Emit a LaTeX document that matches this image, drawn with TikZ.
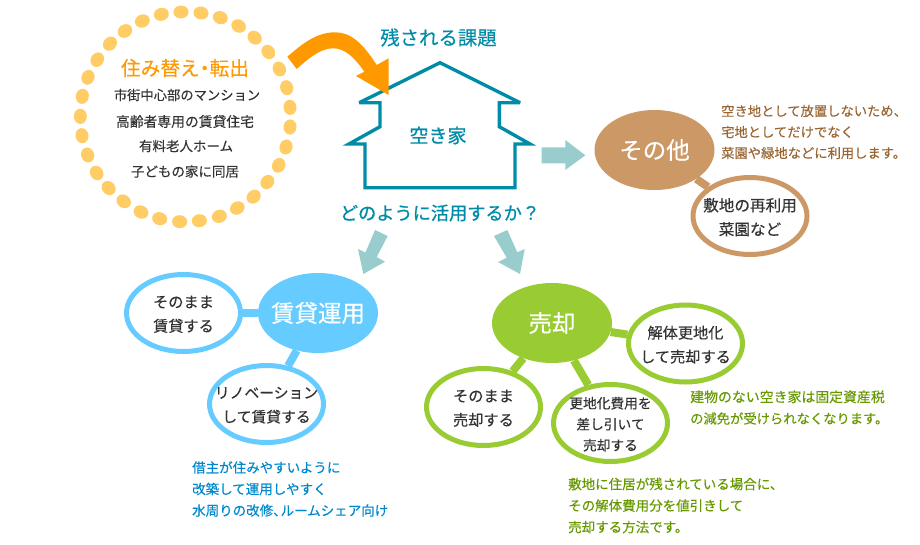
\documentclass[tikz,border=0pt]{standalone}
\usepackage{fontspec}
\setmainfont[FakeBold=0.25]{Noto Sans CJK JP}
\newfontfamily\headfont[FakeBold=0.9]{Noto Sans CJK JP}
\usetikzlibrary{shapes.geometric,backgrounds}
\definecolor{teal1}{HTML}{008CA8}
\definecolor{teal2}{HTML}{99CCCC}
\definecolor{orange1}{HTML}{FF9900}
\definecolor{dotc}{HTML}{FFCC66}
\definecolor{bluec}{HTML}{66CCFF}
\definecolor{greenc}{HTML}{99CC33}
\definecolor{brownc}{HTML}{CC9966}
\definecolor{darktxt}{HTML}{333333}
\definecolor{bluetxt}{HTML}{0088CC}
\definecolor{greentxt}{HTML}{669900}
\definecolor{browntxt}{HTML}{996633}
\newcommand{\narrowten}{\makebox[.55em][l]{、}}
\newcommand{\narrowdot}{\makebox[.5em][c]{\makebox[0pt][c]{・}}}
\tikzset{
  fs/.style n args={2}{font=\fontsize{#1}{#2}\selectfont},
  mainoval/.style={ellipse,fill=#1,draw=none,minimum width=120pt,minimum height=80pt,inner sep=0pt},
  suboval/.style={ellipse,fill=white,draw=#1,line width=5pt,minimum width=114pt,minimum height=77pt,inner sep=0pt},
  link/.style={line width=8pt,draw=#1},
  oval text/.style={align=center,text=darktxt,inner sep=0pt,yshift=-1.2pt},
  big text/.style={text=white,inner sep=0pt,fs={23.5}{28}},
  note/.style={align=left,anchor=west,inner sep=0pt,text=#1},
  teal arrow/.style={fill=teal2,draw=none},
}
\begin{document}
\begin{tikzpicture}[x=1pt,y=-1pt]
\useasboundingbox (0,0) rectangle (920,544);
% dotted ring
\foreach \px/\py in {363/36,423/39,481/53,536/78,584/113,625/156,658/207,680/263,690/322,690/381,678/441,656/496,622/546,581/590,532/624,478/649,418/662,359/665,299/656,243/636,191/604,146/564,110/519,83/465,66/407,61/349,67/289,84/232,112/179,150/131,195/93,247/63,304/43}{
  \pgfmathsetmacro\dx{60+\px/3}
  \pgfmathsetmacro\dy{\py/3}
  \pgfmathsetmacro\ang{-(atan2(\dy-117,\dx-185)+90)}
  \fill[dotc,rotate around={\ang:(\dx,\dy)}] (\dx,\dy) ellipse [x radius=7.6,y radius=6.5];
}
\node[text=orange1,fs={19.7}{23},inner sep=0pt] (t0) at (185,68) {住み替え\narrowdot 転出};
\node[text=darktxt,fs={13.3}{16},inner sep=0pt] (t1) at (187,95) {市街中心部のマンション};
\node[text=darktxt,fs={13.8}{16},inner sep=0pt] (t2) at (185,121.5) {高齢者専用の賃貸住宅};
\node[text=darktxt,fs={13.5}{16},inner sep=0pt] (t3) at (186,146) {有料老人ホーム};
\node[text=darktxt,fs={13.5}{16},inner sep=0pt] (t4) at (185,171.5) {子どもの家に同居};
% house
\draw[teal1,line width=3.4pt,line join=miter,miter limit=4]
  (440,62.7) -- (520,102.7) -- (499.3,102.7) -- (499.3,126.7) -- (530,144) -- (515,144) -- (515,187.7)
  -- (365,187.7) -- (365,144) -- (349,144) -- (380,126.7) -- (380,102.7) -- (359.3,102.7) -- cycle;
% curved orange arrow
\fill[orange1] (287.3,56.7) .. controls (300,46) and (315,32.3) .. (335,32.3)
  .. controls (350,32.3) and (362,42) .. (376.7,65) -- (388.7,58.3) -- (388.7,95) -- (356,76) -- (364.3,71.7)
  .. controls (355,58) and (345,48.3) .. (333.3,48.3) .. controls (320,48.3) and (308,59) .. (296.7,69) -- cycle;
\node[text=teal1,fs={19.4}{23},inner sep=0pt] (kadai) at (438.5,37.5) {残される課題};
\node[text=teal1,fs={19}{23},inner sep=0pt] (akiya) at (438,135.5) {\headfont 空き家};
\node[text=teal1,fs={18.2}{22},inner sep=0pt] (q) at (440,213) {\headfont どのように活用するか？};
% teal arrows
\fill[teal arrow] (541.7,147.3) -- (565.3,147.3) -- (565.3,140) -- (585.3,155.3) -- (565.3,170) -- (565.3,163.3) -- (541.7,163.3) -- cycle;
\fill[teal arrow] (375,230) -- (387.7,236) -- (376.7,257) -- (385,261.7) -- (363.3,274) -- (358,249) -- (365.5,252.5) -- cycle;
\fill[teal arrow] (494,236) -- (507.3,230) -- (517.3,252.3) -- (524.7,249) -- (520,274) -- (498,262) -- (506.7,257.7) -- cycle;
% rental
\node[mainoval=bluec,label={[big text]center:賃貸運用}] (rent) at (318,313) {};
\node[suboval=bluec,label={[oval text,fs={15.2}{24}]center:そのまま\\賃貸する}] (rent1) at (183.5,313) {};
\node[suboval=bluec,label={[oval text,fs={14.8}{24}]center:リノベーション\\して賃貸する}] (rent2) at (266.5,404) {};
% sale
\node[mainoval=greenc,label={[big text]center:売却}] (sale) at (552,323) {};
\node[suboval=greenc,label={[oval text,fs={15.2}{24}]center:解体更地化\\して売却する}] (sale1) at (685.5,343.5) {};
\node[suboval=greenc,label={[oval text,fs={15.2}{24}]center:そのまま\\売却する}] (sale2) at (483.5,407) {};
\node[suboval=greenc,label={[oval text,fs={13.7}{21}]center:更地化費用を\\差し引いて\\売却する}] (sale3) at (610.5,423) {};
% other
\node[mainoval=brownc,label={[big text]center:その他}] (other) at (654.5,150) {};
\node[suboval=brownc,label={[oval text,fs={15.6}{24}]center:敷地の再利用\\菜園など}] (other1) at (750,216) {};
\begin{scope}[on background layer]
  \draw[link=bluec] (rent) -- (rent1);
  \draw[link=bluec] (rent) -- (rent2);
  \draw[link=greenc] (sale) -- (sale1);
  \draw[link=greenc] (sale) -- (sale2);
  \draw[link=greenc] (sale) -- (sale3);
  \draw[link=brownc] (other) -- (other1);
\end{scope}
% notes
\node[note=bluetxt,fs={13.5}{21.5}] (n1) at (192,489) {借主が住みやすいように\\改築して運用しやすく\\水周りの改修\narrowten ルームシェア向け};
\node[note=greentxt,fs={13.9}{21.5}] (n2) at (690,407.5) {建物のない空き家は固定資産税\\\fontsize{13.3}{21.5}\selectfont の減免が受けられなくなります。};
\node[note=greentxt,fs={13.5}{21.5}] (n3) at (568,505.5) {敷地に住居が残されている場合に、\\その解体費用分を値引きして\\売却する方法です。};
\node[note=browntxt,fs={13.3}{21}] (n4) at (721,132) {空き地として放置しないため、\\宅地としてだけでなく\\菜園や緑地などに利用します。};
\end{tikzpicture}
\end{document}
